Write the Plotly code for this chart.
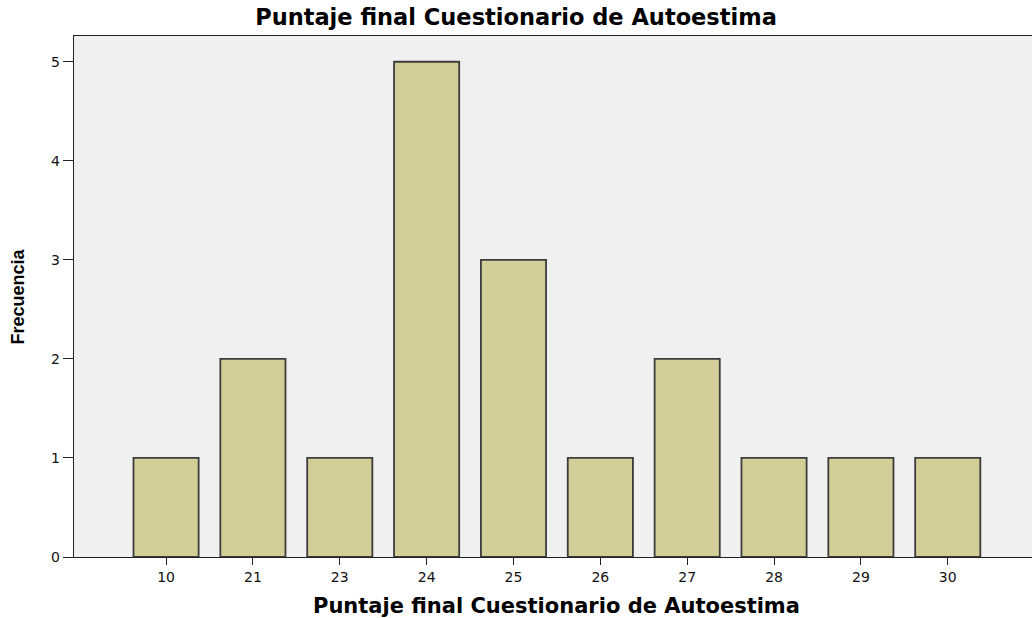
import plotly.graph_objects as go

# puntajes y frecuencias
puntajes = ["10", "21", "23", "24", "25", "26", "27", "28", "29", "30"]
frecuencias = [1, 2, 1, 5, 3, 1, 2, 1, 1, 1]
y_ticks = [0, 1, 2, 3, 4, 5]

titulo = 'Puntaje final Cuestionario de Autoestima'
wide_bold = 'DejaVu Sans, Verdana, sans-serif'

fig = go.Figure()
fig.add_trace(go.Bar(
    x=puntajes, y=frecuencias,
    width=0.75,
    marker=dict(color='#D3CE98', line=dict(color='#3C3C3C', width=1.8)),
    hoverinfo='x+y',
))

fig.update_layout(
    width=1032, height=618,
    margin=dict(l=74, r=0, t=36, b=61),
    paper_bgcolor='white',
    plot_bgcolor='#F0F0F0',
    showlegend=False,
    title=dict(
        text=titulo,
        x=0.5, xanchor='center', y=0.9725, yanchor='middle',
        font=dict(family=wide_bold, size=22.5, color='black', weight='bold'),
    ),
    font=dict(family=wide_bold, size=14, color='#111'),
)

# axis titles as annotations so they sit where the reference has them
fig.add_annotation(
    text=titulo, xref='paper', yref='paper', x=0.504, y=-0.094,
    xanchor='center', yanchor='middle', showarrow=False,
    font=dict(family=wide_bold, size=21, color='black', weight='bold'),
)
fig.add_annotation(
    text='Frecuencia', xref='paper', yref='paper', x=-0.0585, y=0.5,
    xanchor='center', yanchor='middle', showarrow=False, textangle=-90,
    font=dict(family='Liberation Sans, Arial', size=18, color='black', weight='bold'),
)

fig.update_xaxes(
    type='category',
    range=[-1.06, 9.97],
    showgrid=False, zeroline=False,
    showline=True, linecolor='#222', linewidth=1.4, mirror=True,
    ticks='outside', ticklen=7, tickcolor='#222', tickwidth=1.4,
)
fig.update_yaxes(
    range=[0, 5.26],
    tickvals=y_ticks,
    showgrid=False, zeroline=False,
    showline=True, linecolor='#222', linewidth=1.4,
    ticks='outside', ticklen=10, tickcolor='#222', tickwidth=1.4,
)

fig.write_html("out.html", config={'displayModeBar': False},
               post_script="document.body.style.margin='0';")
